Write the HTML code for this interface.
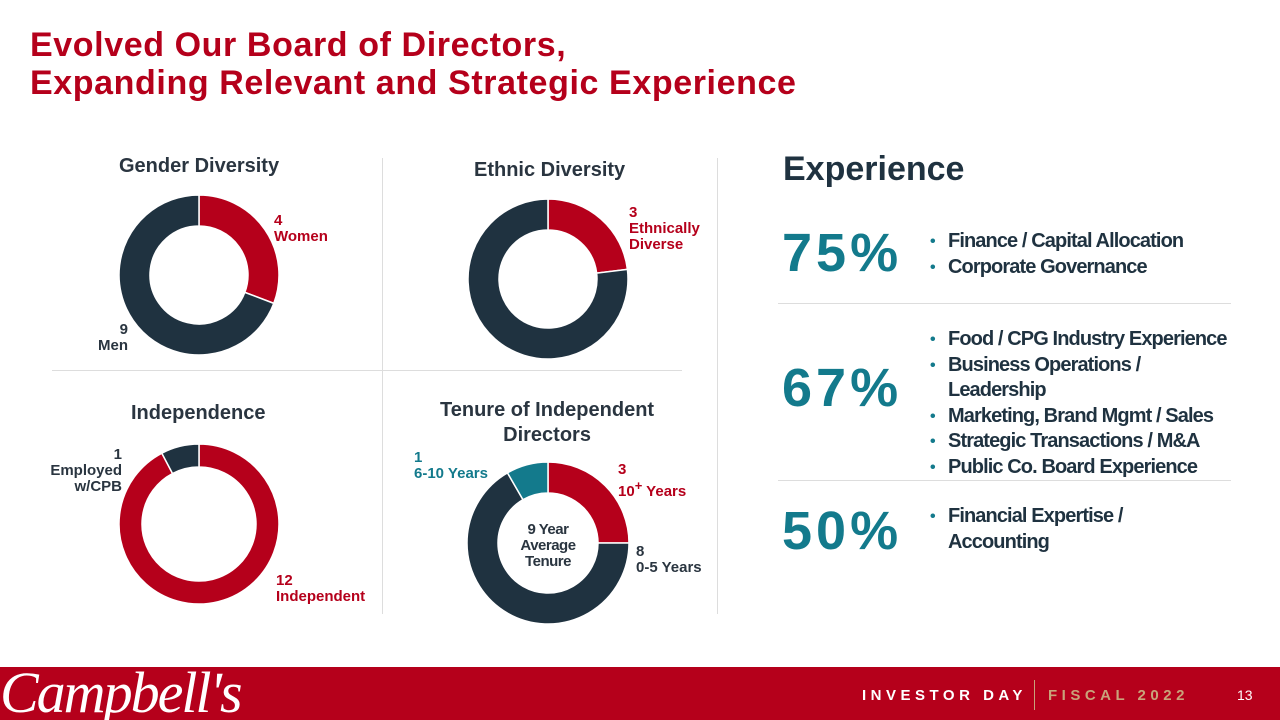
<!DOCTYPE html>
<html><head><meta charset="utf-8"><style>
body{margin:0;width:1280px;height:720px;position:relative;overflow:hidden;background:#fff;font-family:"Liberation Sans",sans-serif;}
.t{position:absolute;white-space:nowrap}
h1{position:absolute;left:30px;top:26px;margin:0;font-size:34px;line-height:38px;color:#b5001b;font-weight:bold;letter-spacing:0.6px}
.ct{font-size:20px;font-weight:bold;color:#2a3540;text-align:center}
.lab{font-size:15px;font-weight:bold;line-height:16px}
.red{color:#b5001b}.dk{color:#2a3540}.tl{color:#137a8c}
.pct{font-size:54px;font-weight:bold;color:#137a8c;letter-spacing:4px}
ul{position:absolute;margin:0;padding-left:18px;font-size:20px;font-weight:bold;color:#1f3240;line-height:25.5px;letter-spacing:-0.9px}
li{list-style:none;position:relative}
li:before{content:"•";position:absolute;left:-18px;color:#137a8c;font-size:16px}
.hr{position:absolute;height:1px;background:#ddd}
</style></head><body>
<h1>Evolved Our Board of Directors,<br>Expanding Relevant and Strategic Experience</h1>

<div class="t ct" style="left:119px;top:155px">Gender Diversity</div>
<div class="t ct" style="left:474px;top:159px">Ethnic Diversity</div>
<div class="t ct" style="left:131px;top:402px">Independence</div>
<div class="t ct" style="left:440px;top:398px;line-height:25px">Tenure of Independent<br>Directors</div>

<div style="position:absolute;left:382px;top:158px;width:1px;height:456px;background:#ddd"></div>
<div style="position:absolute;left:717px;top:158px;width:1px;height:456px;background:#ddd"></div>
<div class="hr" style="left:52px;top:370px;width:630px"></div>

<svg id="ch" width="1280" height="720" style="position:absolute;left:0;top:0"></svg>

<div class="t lab red" style="left:274px;top:213px">4<br>Women</div>
<div class="t lab dk" style="left:80px;top:322px;text-align:right;width:48px">9<br>Men</div>
<div class="t lab red" style="left:629px;top:205px">3<br>Ethnically<br>Diverse</div>
<div class="t lab dk" style="left:40px;top:447px;text-align:right;width:82px">1<br>Employed<br>w/CPB</div>
<div class="t lab red" style="left:276px;top:573px">12<br>Independent</div>
<div class="t lab tl" style="left:414px;top:450px">1<br>6-10 Years</div>
<div class="t lab red" style="left:618px;top:462px">3<br>10<sup style="font-size:13px">+</sup> Years</div>
<div class="t lab dk" style="left:636px;top:544px">8<br>0-5 Years</div>
<div class="t lab dk" style="left:508px;top:522px;width:80px;text-align:center;font-weight:bold;letter-spacing:-0.5px">9 Year<br>Average<br>Tenure</div>

<div class="t" style="left:783px;top:150px;font-size:34px;font-weight:bold;color:#1f3240">Experience</div>
<div class="t pct" style="left:782px;top:222px">75%</div>
<ul style="left:930px;top:229px"><li>Finance / Capital Allocation</li><li>Corporate Governance</li></ul>
<div class="hr" style="left:778px;top:303px;width:453px"></div>
<div class="t pct" style="left:782px;top:357px">67%</div>
<ul style="left:930px;top:327px"><li>Food / CPG Industry Experience</li><li>Business Operations /<br>Leadership</li><li>Marketing, Brand Mgmt / Sales</li><li>Strategic Transactions / M&amp;A</li><li>Public Co. Board Experience</li></ul>
<div class="hr" style="left:778px;top:480px;width:453px"></div>
<div class="t pct" style="left:782px;top:500px">50%</div>
<ul style="left:930px;top:504px"><li>Financial Expertise /<br>Accounting</li></ul>

<div style="position:absolute;left:0;top:667px;width:1280px;height:53px;background:#b5001b;overflow:hidden">
<div class="t" style="left:0px;top:-8px;font-family:'Liberation Serif',serif;font-style:italic;font-size:58px;color:#fff;letter-spacing:-2px">Campbell's</div>
<div class="t" style="left:862px;top:20px;font-size:15px;font-weight:bold;letter-spacing:4.5px;color:#fff">INVESTOR DAY</div>
<div style="position:absolute;left:1034px;top:13px;width:1px;height:30px;background:#c9a37a"></div>
<div class="t" style="left:1048px;top:20px;font-size:15px;font-weight:bold;letter-spacing:4.5px;color:#c9a37a">FISCAL 2022</div>
<div class="t" style="left:1237px;top:20px;font-size:14px;color:#fff">13</div>
</div>

<script>
const genderValues=[4,9];
const ethnicValues=[3,10];
const independenceValues=[12,1];
const tenureValues=[3,8,1];
const genderColors=["#b5001b","#1f3240"];
const ethnicColors=["#b5001b","#1f3240"];
const independenceColors=["#b5001b","#1f3240"];
const tenureColors=["#b5001b","#1f3240","#137a8c"];
const svg=document.getElementById('ch');
function pt(cx,cy,r,a){return [cx+r*Math.sin(a),cy-r*Math.cos(a)];}
function donut(name,cx,cy,ro,ri,vals,cols){
  const tot=vals.reduce((a,b)=>a+b,0);let a0=0;
  vals.forEach((v,i)=>{
    const a1=a0+v/tot*2*Math.PI;const lg=(a1-a0)>Math.PI?1:0;
    const p1=pt(cx,cy,ro,a0),p2=pt(cx,cy,ro,a1),p3=pt(cx,cy,ri,a1),p4=pt(cx,cy,ri,a0);
    const p=document.createElementNS('http://www.w3.org/2000/svg','path');
    p.setAttribute('d',`M${p1}A${ro},${ro} 0 ${lg} 1 ${p2}L${p3}A${ri},${ri} 0 ${lg} 0 ${p4}Z`);
    p.setAttribute('fill',cols[i]);p.setAttribute('stroke','#fff');p.setAttribute('stroke-width','1.5');
    
    
    svg.appendChild(p);a0=a1;});
}
donut('gender',199,275,80,49,genderValues,genderColors);
donut('ethnic',548,279,80,49,ethnicValues,ethnicColors);
donut('independence',199,524,80,57,independenceValues,independenceColors);
donut('tenure',548,543,81,50,tenureValues,tenureColors);
</script>
</body></html>
